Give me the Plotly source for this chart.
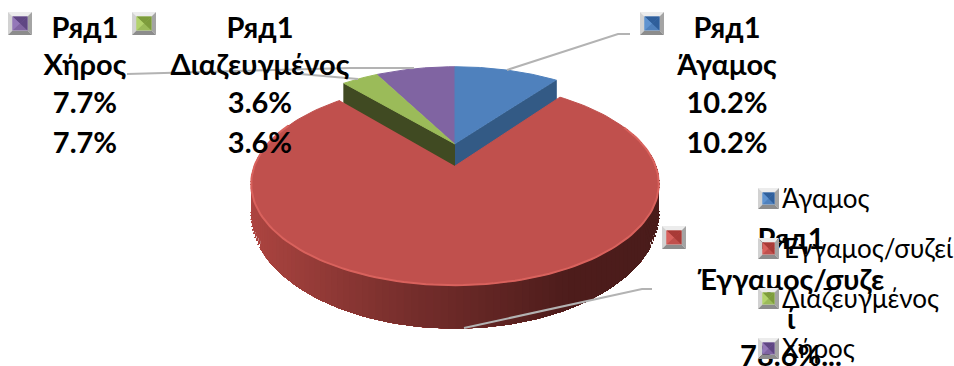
import numpy as np
import plotly.graph_objects as go

# ---------- data ----------
categories = ["Άγαμος", "Έγγαμος/συζεί", "Διαζευγμένος", "Χήρος"]
values = [10.2, 78.6, 3.6, 7.7]
series_name = "Ряд1"
top_colors = ["#4f81bd", "#c0504d", "#9bbb59", "#8064a2"]
side_colors = ["#335a85", "#7a2f2d", "#404a22", "#54416b"]

W, H = 954, 366
FONT = "Lato, Carlito, 'Open Sans', sans-serif"

# projection of the pie disc (unit circle) to the picture
X0, Y0, A, B, K, DEPTH, EXPLODE = 455, 144, 192.6, 90.4, 0.17, 26.8, 0.234


def project(x, y, drop=0.0):
    den = 1 + K * y
    return X0 + A * x / den, Y0 - B * y / den + drop * DEPTH / den ** 2


fractions = np.array(values) / sum(values)
edges = np.concatenate([[0], np.cumsum(fractions)]) * 2 * np.pi


def wedge(i, n=120):
    t = np.linspace(edges[i], edges[i + 1], n)
    oy = -EXPLODE if i == 1 else 0.0
    return np.sin(t), np.cos(t) + oy, oy


fig = go.Figure()


def poly(xs, ys, color, line=None, lw=1):
    fig.add_trace(go.Scatter(
        x=list(xs), y=list(ys), mode="lines", fill="toself", fillcolor=color,
        line=dict(color=line or color, width=lw), hoverinfo="skip", showlegend=False))


def radial_side(i, edge_index):
    t = edges[edge_index]
    oy = -EXPLODE if i == 1 else 0.0
    pts = [(0, oy), (np.sin(t), np.cos(t) + oy)]
    a = [project(*p) for p in pts]
    b = [project(*p, drop=1) for p in pts]
    q = [a[0], a[1], b[1], b[0]]
    poly([p[0] for p in q], [p[1] for p in q], side_colors[i])


# back wedges
radial_side(2, 2)   # green cut face
radial_side(0, 1)   # blue cut face
for i in (3, 2, 0):
    xs, ys, oy = wedge(i)
    px, py = project(np.r_[0, xs], np.r_[oy, ys])
    poly(px, py, top_colors[i])

# red outer wall, painted as overlapping gradient strips
xs, ys, oy = wedge(1, 161)
stops_t = [-1.0, -0.75, -0.2, 0.45, 1.0]
stops_c = [(176, 70, 66), (160, 64, 60), (118, 46, 44), (78, 29, 28), (74, 28, 27)]
tx, ty = project(xs, ys)
tb_x, tb_y = project(xs, ys, drop=1)
order = np.argsort(xs)
sx, st_x, st_y, sb_x, sb_y = xs[order], tx[order], ty[order], tb_x[order], tb_y[order]
keep = (ys[order] - oy) < 0.45
sx, st_x, st_y, sb_x, sb_y = sx[keep], st_x[keep], st_y[keep], sb_x[keep], sb_y[keep]
for j in range(len(sx) - 1):
    col = [int(np.interp(sx[j], stops_t, [c[k] for c in stops_c])) for k in range(3)]
    c = "rgb(%d,%d,%d)" % tuple(col)
    # every strip runs on to the wall's right end, so no seams can show between strips
    poly(list(st_x[j:]) + list(sb_x[j:][::-1]), list(st_y[j:]) + list(sb_y[j:][::-1]), c, lw=0.5)

# red top
px, py = project(np.r_[0, xs], np.r_[oy, ys])
poly(px, py, top_colors[1])
# bevel highlight on the rim
front = ys - oy < 0.45
fig.add_trace(go.Scatter(x=tx[front], y=ty[front], mode="lines",
                         line=dict(color="#d9625d", width=2), hoverinfo="skip", showlegend=False))

# leader lines
GREY = "#b3b3b3"
leaders = [
    ([507, 577, 618, 630], [70, 47, 34, 34]),
    ([464, 642, 652], [328, 289, 289]),
    ([300, 358], [74, 79]),
    ([127, 350, 414], [74, 68, 68]),
]
for lx, ly in leaders:
    fig.add_trace(go.Scatter(x=lx, y=ly, mode="lines", line=dict(color=GREY, width=2),
                             hoverinfo="skip", showlegend=False))

# data labels
pct = ["%.1f%%" % v for v in values]
rows = [31, 68, 106, 146]
labels = [
    ([727] * 4, rows, [series_name, categories[0], pct[0], pct[0]]),
    ([85] * 4, rows, [series_name, categories[3], pct[3], pct[3]]),
    ([260] * 4, rows, [series_name, categories[2], pct[2], pct[2]]),
    ([791, 791, 791, 791], [242, 283, 322, 359], [series_name, categories[1][:-1], categories[1][-1], pct[1] + "..."]),
]
for lx, ly, tx_ in labels:
    fig.add_trace(go.Scatter(
        x=lx, y=ly, text=tx_, mode="text", textposition="middle center",
        textfont=dict(family=FONT, size=29, color="black", weight="bold"),
        hoverinfo="skip", showlegend=False))

# bevelled key squares
shapes = []


def key(x, y, w, h, color, darker, lighter):
    b = 4.5
    x1, y1 = x + w, y + h

    def tri(path, fill):
        shapes.append(dict(type="path", path=path, fillcolor=fill, line=dict(width=0),
                           xref="x", yref="y", layer="above"))

    def P(*pts):
        return "M" + "L".join(f"{a},{c}" for a, c in pts) + "Z"
    tri(P((x, y), (x1, y), (x1 - b, y + b), (x + b, y + b)), "#ececec")
    tri(P((x, y), (x + b, y + b), (x + b, y1 - b), (x, y1)), "#d2d2d2")
    tri(P((x1, y), (x1, y1), (x1 - b, y1 - b), (x1 - b, y + b)), "#a4a4a4")
    tri(P((x, y1), (x1, y1), (x1 - b, y1 - b), (x + b, y1 - b)), "#8c8c8c")
    cx, cy = x + w / 2, y + h / 2
    tri(P((x + b, y + b), (x1 - b, y + b), (x1 - b, y1 - b), (x + b, y1 - b)), color)
    tri(P((x + b, y + b), (x1 - b, y + b), (cx, cy)), darker)
    tri(P((x1 - b, y + b), (x1 - b, y1 - b), (cx, cy)), darker)
    tri(P((x + b, y + b), (x + b, y1 - b), (cx, cy)), lighter)


dark = ["#2f5f9b", "#a83a37", "#7d9c3c", "#5f4683"]
light = ["#5f93d0", "#d8615d", "#b3d36c", "#9478b8"]
for args in [(640, 12, 24, 23, 0), (8, 12, 24, 23, 3), (132, 12, 24, 23, 2), (662, 226, 24, 23, 1)]:
    key(*args[:4], top_colors[args[4]], dark[args[4]], light[args[4]])
for i, yy in enumerate([188, 238, 288, 338]):
    key(758, yy, 21, 21, top_colors[i], dark[i], light[i])

# legend texts
annotations = [
    dict(x=780, y=yy, text=c, xref="x", yref="y", xanchor="left", yanchor="middle", showarrow=False,
         font=dict(family=FONT, size=26, color="black"))
    for c, yy in zip(categories, [198, 248, 298, 348])
]

fig.update_layout(
    width=W, height=H, margin=dict(l=0, r=0, t=0, b=0), autosize=False,
    paper_bgcolor="white", plot_bgcolor="white", showlegend=False,
    xaxis=dict(range=[0, W], visible=False, fixedrange=True),
    yaxis=dict(range=[H, 0], visible=False, fixedrange=True),
    shapes=shapes, annotations=annotations,
)
fig.write_html("out.html", config={"displayModeBar": False},
               post_script="document.body.style.margin='0';document.body.style.overflow='hidden';")
